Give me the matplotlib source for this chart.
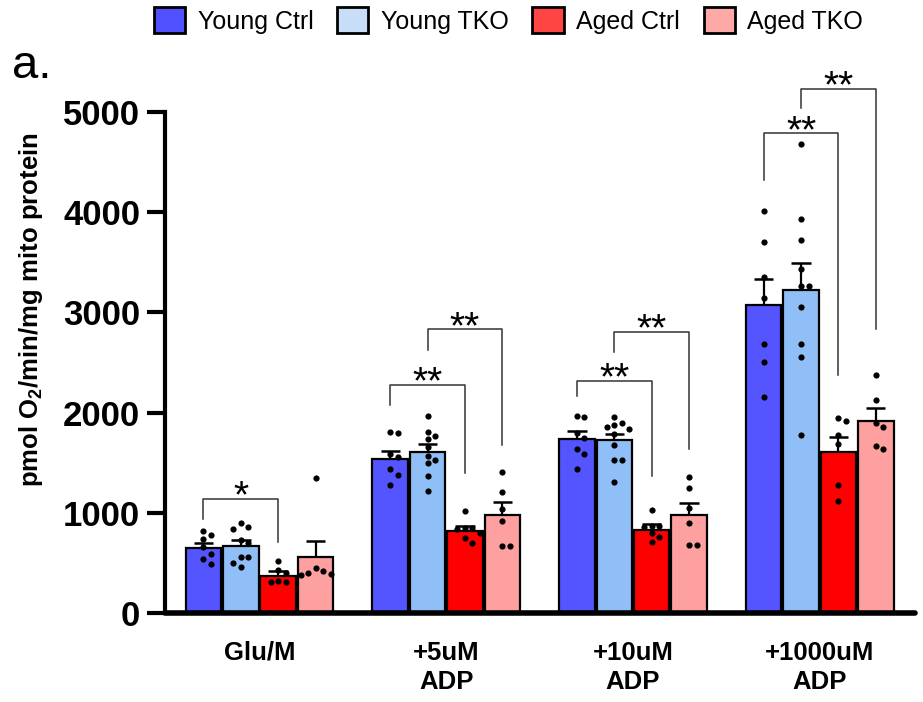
import matplotlib
matplotlib.use("Agg")
import matplotlib.pyplot as plt
import numpy as np
from matplotlib.patches import Patch

plt.rcParams["font.family"] = ["Liberation Sans", "DejaVu Sans"]
plt.rcParams["mathtext.fontset"] = "custom"
plt.rcParams["mathtext.rm"] = "Liberation Sans:bold"
plt.rcParams["mathtext.bf"] = "Liberation Sans:bold"
plt.rcParams["mathtext.default"] = "bf"

groups = ["Glu/M", "+5uM\nADP", "+10uM\nADP", "+1000uM\nADP"]
series = ["Young Ctrl", "Young TKO", "Aged Ctrl", "Aged TKO"]

# bar heights (mean) and upper error (SEM), one list per series
young_ctrl_mean = [650, 1540, 1735, 3070]
young_tko_mean = [670, 1605, 1722, 3225]
aged_ctrl_mean = [370, 822, 830, 1610]
aged_tko_mean = [560, 975, 975, 1919]

young_ctrl_sem = [50, 80, 85, 264]
young_tko_sem = [60, 82, 64, 271]
aged_ctrl_sem = [50, 50, 55, 150]
aged_tko_sem = [160, 130, 126, 123]

# individual points, per series, per group
young_ctrl_pts = [
    [818, 775, 738, 656, 589, 542, 486],
    [1803, 1793, 1584, 1554, 1434, 1377, 1274],
    [1970, 1953, 1793, 1750, 1637, 1587, 1434],
    [4015, 3703, 3357, 3147, 2681, 2502, 2152],
]
young_tko_pts = [
    [901, 861, 835, 728, 695, 562, 556, 496, 456],
    [1966, 1810, 1766, 1733, 1660, 1567, 1527, 1494, 1370, 1218],
    [1959, 1899, 1876, 1859, 1833, 1786, 1677, 1527, 1527, 1310],
    [4677, 3932, 3719, 3433, 3263, 3263, 3057, 2681, 2558, 1776],
]
aged_ctrl_pts = [
    [519, 429, 400, 310, 320, 310],
    [1018, 850, 845, 840, 795, 752, 695],
    [1028, 870, 865, 860, 795, 762, 705],
    [1943, 1916, 1776, 1683, 1277, 1121],
]
aged_tko_pts = [
    [1344, 446, 419, 389, 396, 379],
    [1404, 1211, 1035, 918, 666, 672],
    [1354, 1251, 1045, 895, 679, 679],
    [2375, 2122, 1893, 1860, 1670, 1640],
]

# significance brackets
bracket_group = [0, 1, 1, 2, 2, 3, 3]
bracket_from = [0, 0, 1, 0, 1, 0, 1]
bracket_to = [2, 2, 3, 2, 3, 2, 3]
bracket_top = [1140, 2275, 2830, 2315, 2807, 4787, 5230]
bracket_left_end = [935, 2075, 2625, 2169, 2602, 4321, 5037]
bracket_right_end = [712, 1394, 1677, 1367, 1637, 2375, 2831]
bracket_label = ["*", "**", "**", "**", "**", "**", "**"]

bar_colors = ["#5555FF", "#90BFF8", "#FF0000", "#FFA0A0"]
legend_colors = ["#5050FF", "#C8DEF8", "#FF4444", "#FFA8A8"]

means = [young_ctrl_mean, young_tko_mean, aged_ctrl_mean, aged_tko_mean]
sems = [young_ctrl_sem, young_tko_sem, aged_ctrl_sem, aged_tko_sem]
points = [young_ctrl_pts, young_tko_pts, aged_ctrl_pts, aged_tko_pts]

GROUP_STEP = 5.0
X_PX = 37.3  # pixels per bar slot
Y_PX = 501 / 5000  # pixels per unit


def swarm(values, dot=7.0, step=7.5):
    """simple beeswarm: returns x offsets (bar units)"""
    placed = []
    offs = [0.0] * len(values)
    for i in sorted(range(len(values)), key=lambda k: -values[k]):
        y = values[i] * Y_PX
        cands = [0.0]
        for j in range(1, 6):
            cands += [j * step, -j * step]
        for c in cands:
            if all((c - px) ** 2 + (y - py) ** 2 >= dot ** 2 for px, py in placed):
                break
        placed.append((c, y))
        offs[i] = c / X_PX
    return offs


fig = plt.figure(figsize=(9.23, 7.02), dpi=100)
ax = fig.add_axes([165 / 923, 1 - 613 / 702, 750 / 923, 501 / 702])

centers = np.arange(len(groups)) * GROUP_STEP
for s in range(len(series)):
    xs = centers + (s - 1.5)
    ax.bar(xs, means[s], width=0.95, color=bar_colors[s], edgecolor="black",
           linewidth=1.6, zorder=2)
    tops = np.array(means[s]) + np.array(sems[s])
    ax.vlines(xs, means[s], tops, color="black", linewidth=1.6, zorder=3)
    ax.hlines(tops, xs - 0.26, xs + 0.26, color="black", linewidth=1.8, zorder=3)
    for g in range(len(groups)):
        vals = points[s][g]
        offs = swarm(vals)
        ax.scatter(xs[g] + np.array(offs), vals, s=20, color="black",
                   zorder=4, linewidths=0)

for g, a, b, top, le, re, lab in zip(bracket_group, bracket_from, bracket_to,
                                     bracket_top, bracket_left_end,
                                     bracket_right_end, bracket_label):
    x1 = centers[g] + a - 1.5
    x2 = centers[g] + b - 1.5
    ax.plot([x1, x1, x2, x2], [le, top, top, re], color="#333333",
            linewidth=1.1, clip_on=False, zorder=5)
    ax.text((x1 + x2) / 2, top + 15, lab, ha="center", va="center", fontsize=28,
            clip_on=False)

ax.set_xlim(-2.53, 17.55)
ax.set_ylim(0, 5000)
ax.set_yticks(np.arange(0, 5001, 1000))
ax.set_xticks(centers)
ax.set_xticklabels(groups, fontsize=18.5, fontweight="bold", linespacing=1.25)
for lbl in ax.get_yticklabels():
    lbl.set_fontsize(25)
    lbl.set_fontweight("bold")
ax.tick_params(axis="x", length=0, pad=20)
ax.tick_params(axis="y", length=13, width=3, pad=5)
ax.spines["top"].set_visible(False)
ax.spines["right"].set_visible(False)
ax.spines["left"].set_linewidth(3)
ax.spines["bottom"].set_linewidth(4)
ax.spines["bottom"].set_capstyle("round")

fig.text(31 / 923, 1 - 310 / 702, r"pmol O$_2$/min/mg mito protein",
         rotation=90, ha="center", va="center", fontsize=18.5, fontweight="bold")
fig.text(12 / 923, 1 - 78 / 702, "a.", fontsize=34, va="baseline")

handles = [Patch(facecolor=c, edgecolor="black", linewidth=2) for c in legend_colors]
fig.legend(handles, series, loc="center", bbox_to_anchor=(0.551, 0.971), ncol=4,
           frameon=False, fontsize=18, handlelength=1.25, handleheight=1.25,
           handletextpad=0.5, columnspacing=0.95, borderaxespad=0)

fig.savefig("out.png", dpi=100)
